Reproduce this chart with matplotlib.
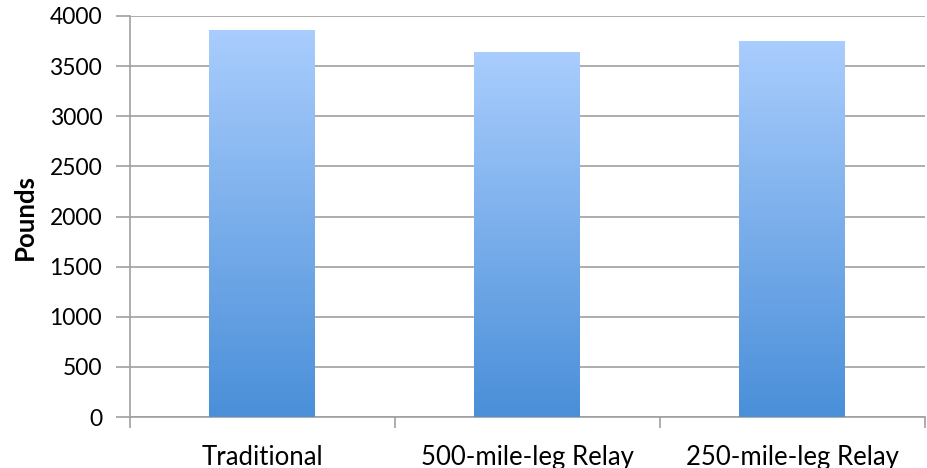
import numpy as np
import matplotlib
matplotlib.use("Agg")
import matplotlib.pyplot as plt
from matplotlib.colors import LinearSegmentedColormap

categories = ["Traditional", "500-mile-leg Relay", "250-mile-leg Relay"]
pounds = [3860, 3640, 3750]
yticks = [0, 500, 1000, 1500, 2000, 2500, 3000, 3500, 4000]

plt.rcParams['font.family'] = ['Lato', 'DejaVu Sans']

fig = plt.figure(figsize=(9.28, 4.68), dpi=100)
ax = fig.add_axes([130 / 928, 1 - 417 / 468, 795 / 928, 401 / 468])

x = np.arange(len(categories))
bars = ax.bar(x, pounds, width=0.4, color='none', edgecolor='none', zorder=3)

grad = LinearSegmentedColormap.from_list("blue_grad", ["#4a8fd9", "#a9cdfd"])
g = np.linspace(0, 1, 256).reshape(-1, 1)
for b in bars:
    x0, y0 = b.get_x(), b.get_y()
    w, h = b.get_width(), b.get_height()
    im = ax.imshow(g, cmap=grad, origin='lower', aspect='auto',
                   extent=[x0, x0 + w, y0, y0 + h], zorder=3,
                   interpolation='bilinear')
    im.set_clip_path(b)

ax.set_xlim(-0.5, len(categories) - 0.5)
ax.set_ylim(0, 4000)
ax.set_yticks(yticks)
ax.yaxis.grid(True, color='#a0a0a0', linewidth=1.2, zorder=0)
ax.set_axisbelow(True)

ax.set_xticks(np.arange(-0.5, len(categories), 1.0))
ax.set_xticklabels([])
ax.set_xticks(x, minor=True)
ax.set_xticklabels(categories, minor=True, fontsize=18.5)
ax.tick_params(axis='x', which='minor', length=0, pad=20)
ax.tick_params(axis='x', which='major', length=8, color='#a0a0a0', width=1.2)
ax.tick_params(axis='y', length=10, color='#a0a0a0', width=1.2,
               labelsize=16.5, pad=10)

for side in ['top', 'right']:
    ax.spines[side].set_visible(False)
for side in ['left', 'bottom']:
    ax.spines[side].set_color('#a0a0a0')
    ax.spines[side].set_linewidth(1.2)

ax.set_ylabel("Pounds", fontsize=18.5, fontweight='bold', labelpad=9)

fig.savefig("out.png", dpi=100)
